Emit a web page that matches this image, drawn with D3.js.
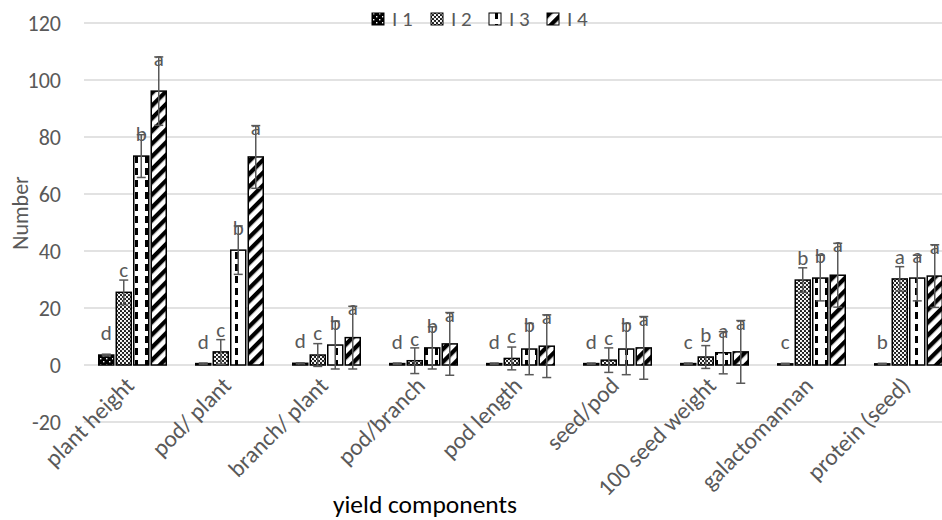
<!DOCTYPE html>
<html><head><meta charset="utf-8">
<script src="https://cdn.jsdelivr.net/npm/d3@7"></script>
<style>
body{margin:0;background:#fff;}
svg{display:block;font-family:Carlito,Calibri,Lato,"Open Sans",sans-serif;}
</style></head>
<body><svg id="chart" width="942" height="520"></svg>
<script>
const categories = ["plant height","pod/ plant","branch/ plant","pod/branch","pod length","seed/pod","100 seed weight","galactomannan","protein (seed)"];
const seriesNames = ["I 1","I 2","I 3","I 4"];
const valuesI1 = [3.5, 0.5, 0.6, 0.5, 0.5, 0.5, 0.5, 0.4, 0.4];
const valuesI2 = [25.5, 4.6, 3.5, 1.5, 2.3, 1.7, 2.8, 29.8, 30.2];
const valuesI3 = [73.3, 40.3, 7.0, 6.0, 5.6, 5.6, 4.3, 30.5, 30.5];
const valuesI4 = [96.1, 73.0, 9.6, 7.4, 6.6, 6.0, 4.6, 31.5, 31.2];
const errI1 = [0.3, 0.2, 0.2, 0.2, 0.2, 0.2, 0.2, 0.2, 0.2];
const errI2 = [4.3, 4.3, 4.0, 4.5, 4.0, 4.3, 4.0, 4.3, 4.3];
const errI3 = [7.5, 8.5, 8.4, 7.4, 9.0, 9.0, 7.4, 8.0, 8.0];
const errI4 = [12.0, 11.0, 11.0, 11.0, 11.0, 11.0, 11.0, 11.2, 11.0];
const lettersI1 = ["d","d","d","d","d","d","c","c","b"];
const lettersI2 = ["c","c","c","c","c","c","b","b","a"];
const lettersI3 = ["b","b","b","b","b","b","a","b","a"];
const lettersI4 = ["a","a","a","a","a","a","a","a","a"];
const yTicks = [-20, 0, 20, 40, 60, 80, 100, 120];

const values = [valuesI1, valuesI2, valuesI3, valuesI4];
const errs = [errI1, errI2, errI3, errI4];
const letters = [lettersI1, lettersI2, lettersI3, lettersI4];

const svg = d3.select("#chart");
const textColor = "#595959", gridColor = "#d9d9d9";

// patterns
const defs = svg.append("defs");
let p = defs.append("pattern").attr("id","pat0").attr("patternUnits","userSpaceOnUse").attr("width",6).attr("height",6);
p.append("rect").attr("width",6).attr("height",6).attr("fill","#000");
p.append("rect").attr("x",1).attr("y",1).attr("width",1.4).attr("height",1.4).attr("fill","#fff");
p.append("rect").attr("x",4).attr("y",4).attr("width",1.4).attr("height",1.4).attr("fill","#fff");
p = defs.append("pattern").attr("id","pat1").attr("patternUnits","userSpaceOnUse").attr("width",4).attr("height",4);
p.append("rect").attr("width",4).attr("height",4).attr("fill","#1a1a1a");
p.append("circle").attr("cx",1).attr("cy",1).attr("r",1.15).attr("fill","#fff");
p.append("circle").attr("cx",3).attr("cy",3).attr("r",1.15).attr("fill","#fff");
p = defs.append("pattern").attr("id","pat2").attr("patternUnits","userSpaceOnUse").attr("width",10).attr("height",12);
p.append("rect").attr("width",10).attr("height",12).attr("fill","#fff");
p.append("rect").attr("x",5).attr("y",0).attr("width",3).attr("height",7).attr("fill","#000");
p = defs.append("pattern").attr("id","pat3").attr("patternUnits","userSpaceOnUse").attr("width",9).attr("height",9).attr("patternTransform","rotate(45)");
p.append("rect").attr("width",9).attr("height",9).attr("fill","#fff");
p.append("rect").attr("x",0).attr("y",0).attr("width",4.3).attr("height",9).attr("fill","#000");

const plotLeft = 84, plotRight = 957, plotTop = 23, plotBottom = 422;
const y = d3.scaleLinear().domain([-20,120]).range([plotBottom, plotTop]);
const x0 = d3.scaleBand().domain(categories).range([plotLeft, plotRight]).padding(0);
const x1 = d3.scaleBand().domain(seriesNames).range([0, 67.5]).paddingInner(2.5/17.5).paddingOuter(0);
const groupOff = (x0.bandwidth() - 67.5) / 2;

// gridlines
svg.append("g").selectAll("line").data(yTicks).join("line")
  .attr("x1", plotLeft).attr("x2", plotRight)
  .attr("y1", d => y(d)).attr("y2", d => y(d))
  .attr("stroke", gridColor).attr("stroke-width", 1.3);

// y axis labels
svg.append("g").selectAll("text").data(yTicks).join("text")
  .attr("x", 61).attr("y", d => y(d)).attr("dy","0.35em")
  .attr("text-anchor","end").attr("fill", textColor).attr("font-size", 22)
  .text(d => d);

svg.append("text").attr("transform","translate(28,213) rotate(-90)")
  .attr("text-anchor","middle").attr("fill",textColor).attr("font-size",22).text("Number");

// bars
const flat = [];
categories.forEach((c, i) => seriesNames.forEach((s, j) => {
  flat.push({c, s, j, v: values[j][i], e: errs[j][i], l: letters[j][i]});
}));
const bx = d => x0(d.c) + groupOff + x1(d.s);
const bw = x1.bandwidth();

svg.append("g").selectAll("rect").data(flat).join("rect")
  .attr("x", bx).attr("width", bw)
  .attr("y", d => y(Math.max(0, d.v))).attr("height", d => Math.abs(y(d.v) - y(0)))
  .attr("fill", d => `url(#pat${d.j})`).attr("stroke","#000").attr("stroke-width",1.5);

// error bars
const eg = svg.append("g").attr("stroke", textColor).attr("stroke-width", 1.5);
flat.forEach(d => {
  const cx = bx(d) + bw/2;
  eg.append("line").attr("x1",cx).attr("x2",cx).attr("y1",y(d.v - d.e)).attr("y2",y(d.v + d.e));
  eg.append("line").attr("x1",cx-4.5).attr("x2",cx+4.5).attr("y1",y(d.v - d.e)).attr("y2",y(d.v - d.e));
  eg.append("line").attr("x1",cx-4.5).attr("x2",cx+4.5).attr("y1",y(d.v + d.e)).attr("y2",y(d.v + d.e));
});

// letters
svg.append("g").selectAll("text").data(flat).join("text")
  .attr("x", d => bx(d) + bw/2)
  .attr("y", d => Math.min(y(d.v) - 15, y(d.v + d.e) + 9))
  .attr("text-anchor","middle").attr("fill",textColor).attr("font-size",21)
  .text(d => d.l);

// x labels
svg.append("g").selectAll("text").data(categories).join("text")
  .attr("transform", d => `translate(${x0(d) + x0.bandwidth()/2 + 3},${387}) rotate(-45)`)
  .attr("text-anchor","end").attr("fill",textColor).attr("font-size",23.5)
  .text(d => d);

svg.append("text").attr("x",425).attr("y",513).attr("text-anchor","middle")
  .attr("fill","#000").attr("font-size",25.5).text("yield components");

// legend
const lg = svg.append("g");
const legX = [372, 431, 489, 547];
seriesNames.forEach((s, j) => {
  lg.append("rect").attr("x", legX[j]).attr("y", 13).attr("width", 12).attr("height", 12)
    .attr("fill", `url(#pat${j})`).attr("stroke","#000").attr("stroke-width",1);
  lg.append("text").attr("x", legX[j] + 20).attr("y", 19).attr("dy","0.35em")
    .attr("fill",textColor).attr("font-size",21).text(s);
});
</script></body></html>
